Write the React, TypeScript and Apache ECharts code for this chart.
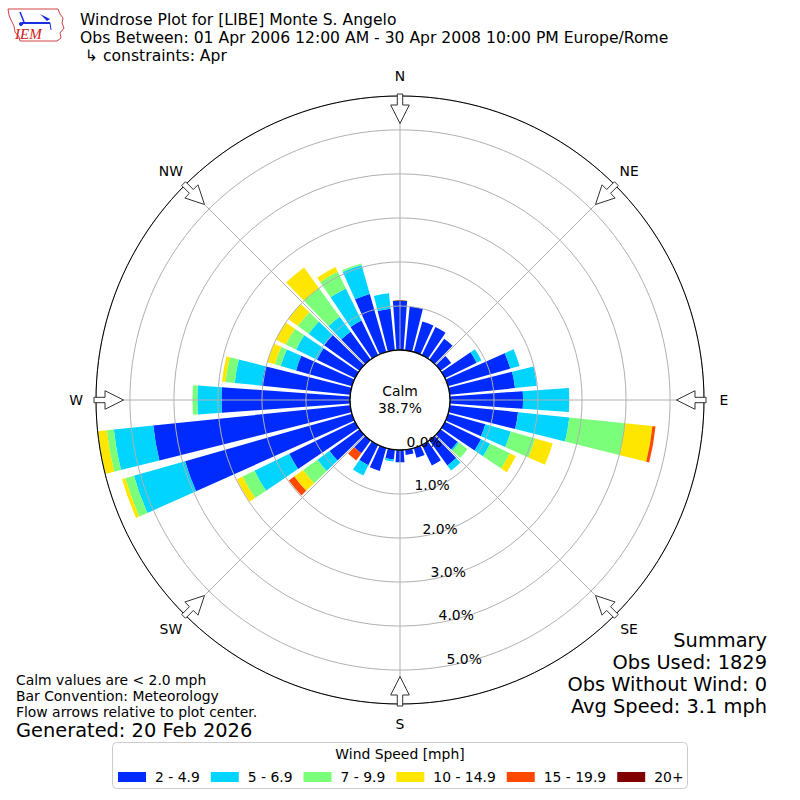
import React, { useEffect, useRef } from 'react';
import * as echarts from 'echarts';

// ---------------- data ----------------
const DIRECTIONS = [0, 10, 20, 30, 40, 50, 60, 70, 80, 90, 100, 110, 120, 130, 140, 150, 160, 170,
  180, 190, 200, 210, 220, 230, 240, 250, 260, 270, 280, 290, 300, 310, 320, 330, 340, 350];

const SPEED_BINS = ['2 - 4.9', '5 - 6.9', '7 - 9.9', '10 - 14.9', '15 - 19.9', '20+'];
const BIN_COLORS = ['#002bff', '#00d4ff', '#7bff7b', '#ffe600', '#ff4800', '#800000'];

// percent of observations, per direction
const SPEED_2_5 = [1.12, 1.00, 0.72, 0.71, 0.58, 0.30, 0.80, 1.47, 1.49, 1.66, 1.56, 0.88, 0.91, 0.48, 0.70, 0.52, 0.23, 0.12,
  0.28, 0.22, 0.54, 0.51, 0.36, 0.84, 1.66, 3.94, 4.50, 2.92, 2.02, 1.32, 0.96, 0.99, 0.78, 0.87, 1.37, 0.95];
const SPEED_5_7 = [0, 0, 0, 0, 0, 0, 0.12, 0.22, 0.50, 1.05, 1.17, 0.60, 0.23, 0.04, 0.14, 0, 0, 0,
  0, 0.05, 0, 0.26, 0, 0.34, 0.88, 1.21, 0.90, 0.55, 0.62, 0.36, 0.53, 0.44, 0.42, 0.81, 0.68, 0.35];
const SPEED_7_10 = [0, 0, 0, 0, 0, 0, 0, 0, 0, 0, 1.27, 0.58, 0.50, 0.24, 0, 0, 0, 0,
  0, 0, 0, 0, 0, 0.40, 0.30, 0.20, 0.16, 0.11, 0.21, 0.14, 0.26, 0.30, 0.80, 0.42, 0.04, 0];
const SPEED_10_15 = [0, 0, 0, 0, 0, 0, 0, 0, 0, 0, 0.63, 0.41, 0.15, 0, 0, 0, 0, 0,
  0, 0, 0, 0, 0, 0.25, 0.15, 0.08, 0.21, 0, 0.08, 0.18, 0.25, 0.27, 0.58, 0.12, 0, 0];
const SPEED_15_20 = [0, 0, 0, 0, 0, 0, 0, 0, 0, 0, 0.07, 0, 0, 0, 0, 0, 0, 0,
  0, 0, 0, 0, 0.20, 0.15, 0, 0, 0, 0, 0, 0, 0, 0, 0, 0, 0, 0];
const SPEED_20_UP = [0, 0, 0, 0, 0, 0, 0, 0, 0, 0, 0, 0, 0, 0, 0, 0, 0, 0,
  0, 0, 0, 0, 0, 0, 0, 0, 0, 0, 0, 0, 0, 0, 0, 0, 0, 0];

const RADIAL_TICKS = [0, 1, 2, 3, 4, 5];
const COMPASS = ['N', 'NE', 'E', 'SE', 'S', 'SW', 'W', 'NW'];
const CALM_PCT = 38.7;
const R_MAX = 5.77;

const TITLE_LINES = [
  'Windrose Plot for [LIBE] Monte S. Angelo',
  'Obs Between: 01 Apr 2006 12:00 AM - 30 Apr 2008 10:00 PM Europe/Rome',
  ' \u21b3 constraints: Apr',
];
const NOTE_LINES = ['Calm values are < 2.0 mph', 'Bar Convention: Meteorology', 'Flow arrows relative to plot center.'];
const GENERATED = 'Generated: 20 Feb 2026';
const SUMMARY_LINES = ['Summary', 'Obs Used: 1829', 'Obs Without Wind: 0', 'Avg Speed: 3.1 mph'];

// ---------------- layout ----------------
const CX = 400;
const CY = 400;
const R_INNER = 50;
const R_OUTER = 304;
const FONT = 'DejaVu Sans';

function txt(x: number, y: number, text: string, size: number, align = 'left', extra: any = {}) {
  return {
    type: 'text', x, y, z: 20, silent: true,
    style: {
      text, fontSize: size, fontFamily: FONT, fill: '#000',
      textAlign: align, textVerticalAlign: 'middle', align, verticalAlign: 'middle', ...extra,
    },
  };
}

function arrow(deg: number) {
  const t = (deg * Math.PI) / 180;
  const ux = Math.sin(t), uy = -Math.cos(t);
  const px = Math.cos(t), py = Math.sin(t);
  const pts = [[306, -2.7], [295, -2.7], [295, -9.3], [276.5, 0], [295, 9.3], [295, 2.7], [306, 2.7]];
  return {
    type: 'polygon', z: 15, silent: true,
    shape: { points: pts.map(([d, w]) => [CX + d * ux + w * px, CY + d * uy + w * py]) },
    style: { fill: '#ffffff', stroke: '#333333', lineWidth: 1 },
  };
}

export default function App() {
  const ref = useRef<HTMLDivElement>(null);

  useEffect(() => {
    if (!ref.current) return;
    const chart = echarts.init(ref.current, null, { renderer: 'svg' });
    const BIN_DATA = [SPEED_2_5, SPEED_5_7, SPEED_7_10, SPEED_10_15, SPEED_15_20, SPEED_20_UP];

    const graphics: any[] = [];
    // logo
    graphics.push({
      type: 'polyline', z: 20, silent: true,
      shape: { points: [[8, 9], [58, 9], [60, 14], [63, 18], [62, 23], [64, 28], [60, 33], [61, 38], [57, 41], [20, 41], [19, 37], [15, 32], [14, 26], [11, 20], [9, 15], [8, 9]] },
      style: { stroke: '#d04040', lineWidth: 1, fill: 'none' },
    });
    graphics.push({ type: 'line', z: 20, silent: true, shape: { x1: 22, y1: 23, x2: 50, y2: 23 }, style: { stroke: '#1a2ee0', lineWidth: 2 } });
    graphics.push({ type: 'line', z: 20, silent: true, shape: { x1: 20, y1: 12, x2: 24, y2: 22 }, style: { stroke: '#1a2ee0', lineWidth: 1.5 } });
    graphics.push({ type: 'polygon', z: 20, silent: true, shape: { points: [[40, 14], [50, 19], [47, 21]] }, style: { fill: '#1a2ee0' } });
    graphics.push({ type: 'circle', z: 20, silent: true, shape: { cx: 21, cy: 24, r: 2 }, style: { fill: '#1a2ee0' } });
    graphics.push({ type: 'line', z: 20, silent: true, shape: { x1: 50, y1: 23, x2: 51, y2: 30 }, style: { stroke: '#1a2ee0', lineWidth: 1 } });
    graphics.push(txt(15, 34, 'IEM', 15, 'left', { fill: '#d02020', fontFamily: 'Liberation Serif', fontStyle: 'italic' }));

    // titles
    TITLE_LINES.forEach((l, i) => graphics.push(txt(80, 19.5 + i * 18, l, 15.6)));
    graphics.push(txt(16, 696, NOTE_LINES.join('\n'), 13.9, 'left', { lineHeight: 16 }));
    graphics.push(txt(16, 730, GENERATED, 19.4));
    graphics.push(txt(767, 673, SUMMARY_LINES.join('\n'), 19.4, 'right', { lineHeight: 22 }));

    // compass labels + arrows
    COMPASS.forEach((c, i) => {
      const t = (i * 45 * Math.PI) / 180;
      graphics.push(txt(CX + 324 * Math.sin(t), CY - 324 * Math.cos(t), c, 13.9, 'center'));
      graphics.push(arrow(i * 45));
    });

    // calm circle
    graphics.push({
      type: 'circle', z: 12, silent: true,
      shape: { cx: CX, cy: CY, r: R_INNER },
      style: { fill: '#ffffff', stroke: '#000000', lineWidth: 1.3 },
    });
    graphics.push(txt(CX, 399.5, 'Calm\n' + CALM_PCT.toFixed(1) + '%', 13.9, 'center', { lineHeight: 17 }));

    // legend frame and title
    graphics.push({
      type: 'rect', z: 1, silent: true,
      shape: { x: 112.5, y: 742.5, width: 575, height: 46, r: 4 },
      style: { fill: '#ffffff', stroke: '#cccccc', lineWidth: 1 },
    });
    graphics.push(txt(CX, 754, 'Wind Speed [mph]', 13.9, 'center'));

    const option: any = {
      animation: false,
      backgroundColor: '#ffffff',
      polar: [
        { center: [CX, CY], radius: [R_INNER, R_OUTER] },
        { center: [CX, CY], radius: [R_INNER, R_OUTER] },
      ],
      angleAxis: [
        {
          polarIndex: 0, type: 'category', data: DIRECTIONS.map(String), startAngle: 95, clockwise: true,
          axisLine: { show: false }, axisTick: { show: false }, axisLabel: { show: false }, splitLine: { show: false },
        },
        {
          polarIndex: 1, type: 'value', min: 0, max: 360, interval: 45, startAngle: 90, clockwise: true, z: 6,
          axisLine: { show: true, lineStyle: { color: '#000000', width: 1 } },
          axisTick: { show: false }, axisLabel: { show: false },
          splitLine: { show: true, lineStyle: { color: '#b0b0b0', width: 1 } },
        },
      ],
      radiusAxis: [
        {
          polarIndex: 0, type: 'value', min: 0, max: R_MAX,
          axisLine: { show: false }, axisTick: { show: false }, axisLabel: { show: false }, splitLine: { show: false },
        },
        {
          polarIndex: 1, type: 'value', min: 0, max: R_MAX, interval: 1, z: 5,
          axisLine: { show: false }, axisTick: { show: false }, axisLabel: { show: false },
          splitLine: { show: true, lineStyle: { color: '#b0b0b0', width: 1 } },
        },
      ],
      legend: {
        data: SPEED_BINS, left: 118, top: 770, orient: 'horizontal', padding: 0,
        itemWidth: 28, itemHeight: 10, itemGap: 11, icon: 'rect', selectedMode: false, z: 10,
        textStyle: { fontSize: 13.9, fontFamily: FONT, color: '#000000', padding: [0, 0, 0, 4] },
      },
      series: SPEED_BINS.map((name, i) => ({
        type: 'bar', name, coordinateSystem: 'polar', polarIndex: 0, stack: 'ws',
        data: BIN_DATA[i], barCategoryGap: '18%', silent: true,
        itemStyle: { color: BIN_COLORS[i] }, emphasis: { disabled: true },
      })),
      graphic: { elements: graphics },
    };
    chart.setOption(option);

    // radial tick labels placed through the ring scale
    const pxPer = (R_OUTER - R_INNER) / R_MAX;
    const labelAngle = 169.5;
    const lab = RADIAL_TICKS.map((v) => {
      let p: number[] | null = null;
      try {
        p = chart.convertToPixel({ polarIndex: 1 } as any, [v, labelAngle]) as any;
      } catch (e) { p = null; }
      if (!p || !isFinite(p[0])) {
        const r = R_INNER + v * pxPer;
        const a = (labelAngle * Math.PI) / 180;
        p = [CX + r * Math.sin(a), CY - r * Math.cos(a)];
      }
      return txt(p[0] + 15, p[1] - 7, v.toFixed(1) + '%', 13.9, 'center', { z: 25 });
    });
    chart.setOption({ graphic: { elements: [...graphics, ...lab] } });

    return () => chart.dispose();
  }, []);

  return (
    <div
      ref={ref}
      style={{ position: 'fixed', left: 0, top: 0, width: 800, height: 800, background: '#fff' }}
    />
  );
}
